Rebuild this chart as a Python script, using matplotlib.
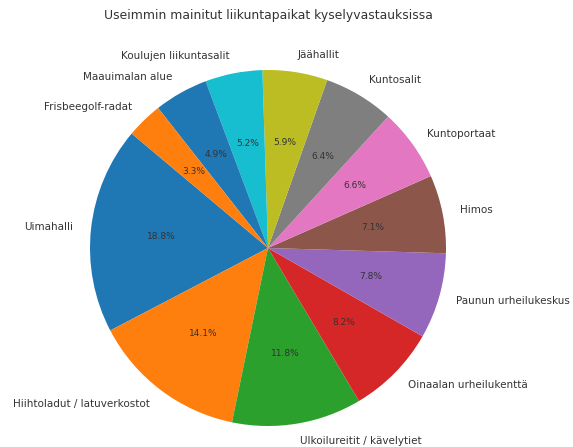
import matplotlib
matplotlib.use("Agg")
import matplotlib.pyplot as plt

labels = [
    "Uimahalli",
    "Hiihtoladut / latuverkostot",
    "Ulkoilureitit / kävelytiet",
    "Oinaalan urheilukenttä",
    "Paunun urheilukeskus",
    "Himos",
    "Kuntoportaat",
    "Kuntosalit",
    "Jäähallit",
    "Koulujen liikuntasalit",
    "Maauimalan alue",
    "Frisbeegolf-radat",
]
shares = [18.8, 14.1, 11.8, 8.2, 7.8, 7.1, 6.6, 6.4, 5.9, 5.2, 4.9, 3.3]
colors = ["C0", "C1", "C2", "C3", "C4", "C5", "C6", "C7", "C8", "C9", "C0", "C1"]

text_color = "#333333"

fig = plt.figure(figsize=(5.73, 4.47), dpi=100)
ax = fig.add_axes([45.5 / 573, -23.5 / 447, 445 / 573, 445 / 447])

wedges, texts, autotexts = ax.pie(
    shares,
    labels=labels,
    colors=colors,
    autopct="%1.1f%%",
    startangle=140,
    textprops={"fontsize": 7.5, "color": text_color},
)
for t in autotexts:
    t.set_fontsize(6.5)
ax.set_aspect("equal")

fig.text(268 / 573, 1 - 15 / 447, "Useimmin mainitut liikuntapaikat kyselyvastauksissa",
         ha="center", va="center", fontsize=8.9, color=text_color)

fig.savefig("out.png", dpi=100)
